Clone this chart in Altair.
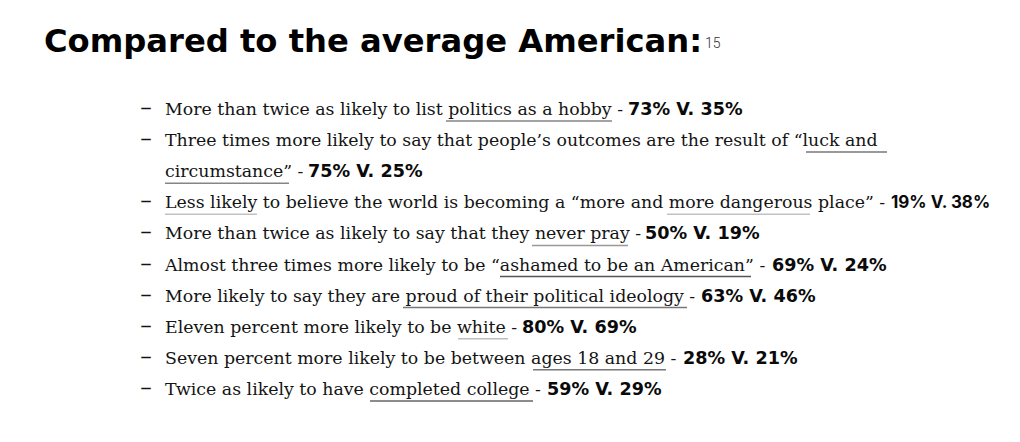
import altair as alt
import pandas as pd

# ---------------- content ----------------
title_text = "Compared to the average American:"
footnote_text = "15"

body_lines = [
    "More than twice as likely to list politics as a hobby -",
    "Three times more likely to say that people\u2019s outcomes are the result of \u201cluck and",
    "circumstance\u201d -",
    "Less likely to believe the world is becoming a \u201cmore and more dangerous place\u201d -",
    "More than twice as likely to say that they never pray -",
    "Almost three times more likely to be \u201cashamed to be an American\u201d -",
    "More likely to say they are proud of their political ideology -",
    "Eleven percent more likely to be white -",
    "Seven percent more likely to be between ages 18 and 29 -",
    "Twice as likely to have completed college -",
]
# underlined (linked) phrases: line index and phrase
link_line = [0, 1, 2, 3, 3, 4, 5, 6, 7, 8, 9]
link_text = ["politics as a hobby", "luck and", "circumstance", "Less likely", "more dangerous",
             "never pray", "ashamed to be an American", "proud of their political ideology",
             "white", "ages 18 and 29", "completed college"]
stat_line = [0, 2, 3, 4, 5, 6, 7, 8, 9]
stat_text = ["73% V. 35%", "75% V. 25%", "19% V. 38%", "50% V. 19%", "69% V. 24%",
             "63% V. 46%", "80% V. 69%", "28% V. 21%", "59% V. 29%"]
stat_style = ["wide", "wide", "tight", "wide", "wide", "wide", "wide", "wide", "wide"]
bullet_lines = [0, 1, 3, 4, 5, 6, 7, 8, 9]

# ---------------- layout (page pixels) ----------------
text_left = 165
link_x = [446, 806, 165, 165, 667, 532, 500, 403, 458, 533, 370]
link_x2 = [612, 887, 289, 257, 810, 628, 751, 687, 508, 666, 533]
link_color = ["#858585", "#777777", "#858585", "#c2c2c2", "#c2c2c2", "#999999",
              "#555555", "#777777", "#bdbdbd", "#777777", "#666666"]
stat_x = [628, 308, 891, 645, 772, 701, 522, 683, 547]
first_baseline = 115
line_step = 31.1
underline_gap = 6
bullet_x = 146
title_x, title_y = 44, 52
note_x, note_y = 705, 48


def baseline(i):
    return first_baseline + line_step * i


body_df = pd.DataFrame({"x": [text_left] * len(body_lines),
                        "y": [baseline(i) for i in range(len(body_lines))],
                        "text": body_lines})
link_df = pd.DataFrame({"x": link_x, "x2": link_x2,
                        "y": [baseline(i) + underline_gap for i in link_line],
                        "phrase": link_text, "ucolor": link_color})
stat_df = pd.DataFrame({"x": stat_x, "y": [baseline(i) for i in stat_line],
                        "text": stat_text, "style": stat_style})
bullets_df = pd.DataFrame({"x": [bullet_x] * len(bullet_lines),
                           "y": [baseline(i) for i in bullet_lines],
                           "text": ["\u2013"] * len(bullet_lines)})
title_df = pd.DataFrame({"x": [title_x], "y": [title_y], "text": [title_text]})
note_df = pd.DataFrame({"x": [note_x], "y": [note_y], "text": [footnote_text]})

W, H = 1004, 426
xs = alt.Scale(domain=[8, 8 + W], nice=False, zero=False)
ys = alt.Scale(domain=[8, 8 + H], nice=False, zero=False, reverse=True)
X = alt.X("x:Q", scale=xs, axis=None)
Y = alt.Y("y:Q", scale=ys, axis=None)

underlines = alt.Chart(link_df).mark_rule(strokeWidth=1.5).encode(
    x=X, x2="x2:Q", y=Y, color=alt.Color("ucolor:N", scale=None), tooltip="phrase:N")

body = alt.Chart(body_df).mark_text(
    align="left", baseline="alphabetic", font="DejaVu Serif",
    fontSize=17.35, color="#141414").encode(x=X, y=Y, text="text:N")

stats = alt.Chart(stat_df).transform_filter(alt.datum.style == "wide").mark_text(
    align="left", baseline="alphabetic", font="DejaVu Sans", fontWeight="bold",
    fontSize=17.6, color="#0a0a0a").encode(x=X, y=Y, text="text:N")

stats2 = alt.Chart(stat_df).transform_filter(alt.datum.style == "tight").mark_text(
    align="left", baseline="alphabetic", font="Inter", fontWeight=700,
    fontSize=17, color="#0a0a0a").encode(x=X, y=Y, text="text:N")

bullets = alt.Chart(bullets_df).mark_text(
    align="center", baseline="alphabetic", font="DejaVu Serif", fontSize=23,
    color="#141414").encode(x=X, y=Y, text="text:N")

title = alt.Chart(title_df).mark_text(
    align="left", baseline="alphabetic", font="DejaVu Sans", fontWeight="bold",
    fontSize=32.2, color="#000000").encode(x=X, y=Y, text="text:N")

note = alt.Chart(note_df).mark_text(
    align="left", baseline="alphabetic", font="Roboto", fontWeight=300,
    fontSize=14, color="#333333").encode(x=X, y=Y, text="text:N")

chart = alt.layer(underlines, body, stats, stats2, bullets, title, note).properties(
    width=W, height=H, padding=0, autosize=alt.AutoSizeParams(type="none")
).configure_view(stroke=None)

chart.save("out.html", embed_options={"renderer": "svg", "actions": False})
